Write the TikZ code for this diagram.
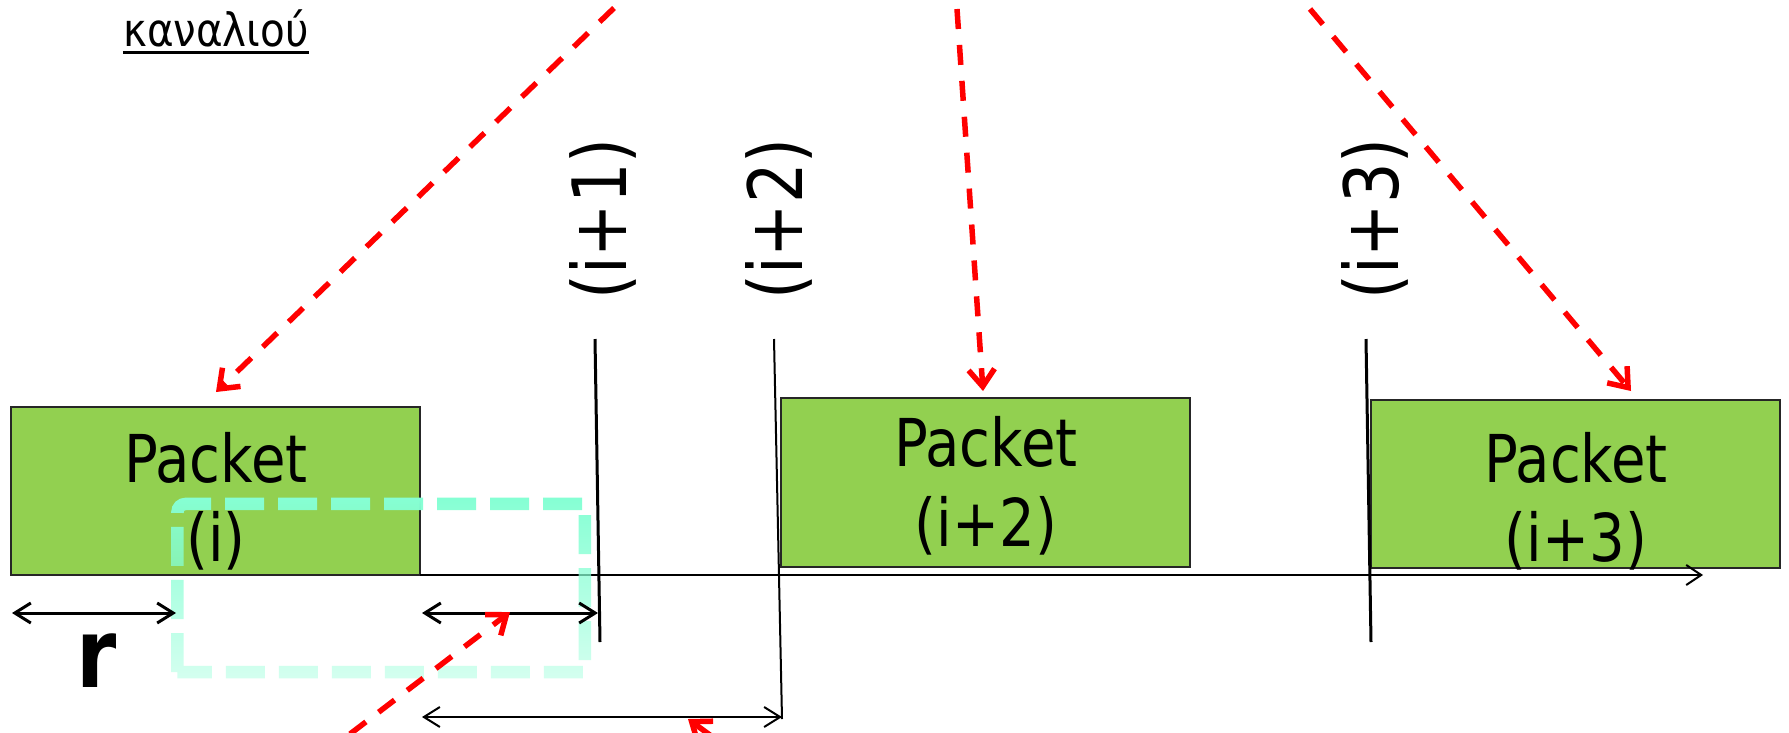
\documentclass[tikz,border=0pt]{standalone}
\usepackage{fontspec}
\setmainfont{DejaVu Sans}[FakeStretch=0.85]
\newfontfamily\grk{DejaVu Sans}[FakeStretch=0.88]
\usetikzlibrary{arrows.meta,fadings}
\definecolor{pgreen}{HTML}{92D050}
\definecolor{aqua}{HTML}{86FFD4}
\tikzfading[name=cfade, top color=transparent!0, bottom color=transparent!65]
\tikzset{
  pbox/.style={draw=black!85, line width=2pt, fill=pgreen, minimum width=409pt,
    minimum height=168pt, inner sep=0pt, outer sep=0pt},
  ptext/.style={anchor=base, inner sep=0pt, font=\fontsize{66}{79}\selectfont},
  vlabel/.style={anchor=base, rotate=90, inner sep=0pt, font=\fontsize{75}{90}\selectfont},
  redarrow/.style={draw=red, line width=5.5pt, dash pattern=on 20pt off 16pt,
    -{Straight Barb[length=17pt,width=26pt]}},
  dimarrow/.style={draw=black, line width=3pt,
    {Straight Barb[length=16pt,width=20pt]}-{Straight Barb[length=16pt,width=20pt]}},
  tline/.style={draw=black, line width=3pt},
}
\begin{document}
\begin{tikzpicture}[x=1pt,y=-1pt]
\clip (0,0) rectangle (1789,732);
\fill[white] (0,0) rectangle (1789,732);

% title
\node[font=\grk\fontsize{46}{55}\selectfont, anchor=base, inner sep=0pt] (title) at (216,46.5) {καναλιού};
\draw[line width=3.5pt] ([yshift=-6pt]title.base west) -- ([yshift=-6pt]title.base east);

% packets
\node[pbox] (p1) at (215.5,491) {};
\node[pbox, minimum height=169pt] (p2) at (985.5,482.5) {};
\node[pbox] (p3) at (1575.5,484) {};
\node[ptext] (p1a) at (216,482) {Packet};
\node[ptext] (p1b) at (216,561) {(i)};
\node[ptext] (p2a) at (986,466) {Packet};
\node[ptext] (p2b) at (986,546) {(i+2)};
\node[ptext] (p3a) at (1576,482) {Packet};
\node[ptext] (p3b) at (1576,561) {(i+3)};

% rotated labels
\node[vlabel] (l1) at (626,219) {(i+1)};
\node[vlabel] (l2) at (802,219) {(i+2)};
\node[vlabel] (l3) at (1398,219) {(i+3)};

% time axis
\coordinate (axend) at (1703,575);
\draw[line width=2pt, -{Straight Barb[length=15pt,width=20pt]}] (p1.south east) -- (axend);

% vertical marks
\coordinate (v1t) at (595,339); \coordinate (v1b) at (600,642);
\coordinate (v2t) at (774,339); \coordinate (v2b) at (782,719);
\coordinate (v3t) at (1366,339); \coordinate (v3b) at (1371,642);
\draw[tline] (v1t) -- (v1b);
\draw[tline, line width=2pt] (v2t) -- (v2b);
\draw[tline] (v3t) -- (v3b);

% cyan dashed window
\draw[aqua, line width=12.5pt, dash pattern=on 39pt off 14pt, path fading=cfade]
  (177.5,672) [rounded corners=8pt]-- (177.5,504) [sharp corners]-- (585,504) -- (585,672) -- cycle;

% dimension arrows
\coordinate (d1a) at (12,613); \coordinate (d1b) at (176,613);
\coordinate (d2a) at (422,613); \coordinate (d2b) at (598,613);
\coordinate (d3a) at (422,717);
\draw[dimarrow] (d1a) -- (d1b);
\draw[dimarrow] (d2a) -- (d2b);
\draw[dimarrow, line width=2pt] (d3a) -- (d3a -| v2b);
\node[anchor=base, inner sep=0pt, font=\bfseries\fontsize{96}{110}\selectfont] (r) at (97,687) {r};

% red arrows
\coordinate (r1s) at (614,8);   \coordinate (r1e) at (216,392);
\coordinate (r2s) at (957,9);   \coordinate (r2e) at (983,391);
\coordinate (r3s) at (1310,9);  \coordinate (r3e) at (1631,391);
\coordinate (r4s) at (350,734); \coordinate (r4e) at (510,612);
\coordinate (r5s) at (740,757); \coordinate (r5e) at (688,719);
\draw[redarrow] (r1s) -- (r1e);
\draw[redarrow] (r2s) -- (r2e);
\draw[redarrow] (r3s) -- (r3e);
\draw[redarrow] (r4s) -- (r4e);
\draw[redarrow] (r5s) -- (r5e);
\end{tikzpicture}
\end{document}
